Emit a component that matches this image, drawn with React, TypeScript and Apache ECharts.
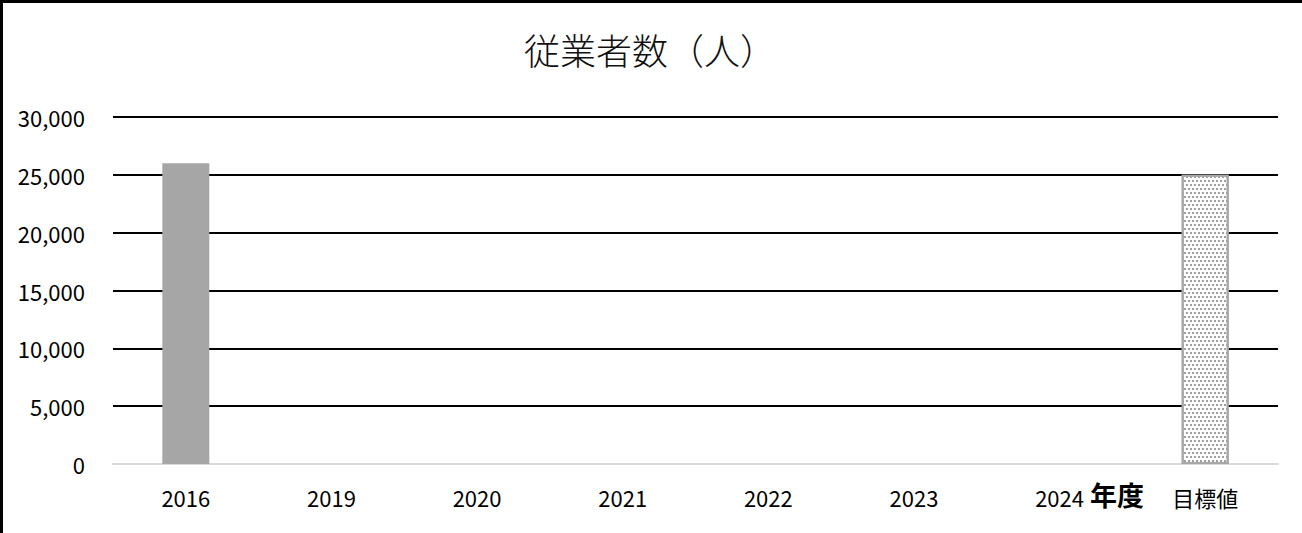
import React, { useEffect, useRef } from "react";
import * as echarts from "echarts";

const categories = ["2016", "2019", "2020", "2021", "2022", "2023", "2024", "目標値"];
const employees = [26000, null, null, null, null, null, null, null];
const target = [null, null, null, null, null, null, null, 25000];
const yTicks = { min: 0, max: 30000, interval: 5000 };
const titleText = "従業者数（人）";
const unitText = "年度";

const FONT = "'Noto Sans CJK JP', 'Noto Sans', sans-serif";

export default function App() {
  const ref = useRef<HTMLDivElement>(null);
  useEffect(() => {
    if (!ref.current) return;
    const chart = echarts.init(ref.current, null, { renderer: "svg" });
    chart.setOption({
      animation: false,
      backgroundColor: "#fff",
      textStyle: { fontFamily: FONT },
      title: {
        text: titleText,
        left: 524,
        top: 31,
        padding: 0,
        textStyle: { fontFamily: FONT, fontSize: 36, fontWeight: 300, color: "#111" },
      },
      graphic: [
        { type: "line", shape: { x1: 0, y1: 1.5, x2: 1302, y2: 1.5 }, style: { stroke: "#000", lineWidth: 3 } },
        { type: "line", shape: { x1: 1.5, y1: 0, x2: 1.5, y2: 533 }, style: { stroke: "#000", lineWidth: 3 } },
        {
          type: "text",
          left: 1090,
          top: 481,
          style: { text: unitText, font: `bold 27px ${FONT}`, fill: "#000" },
        },
      ],
      grid: { left: 113, right: 24, top: 117, bottom: 69, containLabel: false },
      xAxis: {
        type: "category",
        data: categories,
        axisLine: { lineStyle: { color: "#d9d9d9", width: 2 } },
        axisTick: { show: false },
        axisLabel: { fontSize: 22, color: "#000", margin: 22, fontFamily: FONT },
      },
      yAxis: {
        type: "value",
        min: yTicks.min,
        max: yTicks.max,
        interval: yTicks.interval,
        axisLine: { show: false },
        axisTick: { show: false },
        splitLine: { lineStyle: { color: "#000", width: 2 } },
        axisLabel: {
          fontSize: 22,
          color: "#000",
          margin: 28,
          fontFamily: FONT,
          formatter: (v: number) => v.toLocaleString("en-US"),
        },
      },
      series: [
        {
          type: "bar",
          stack: "s",
          data: employees,
          barWidth: 47,
          itemStyle: { color: "#a6a6a6" },
        },
        {
          type: "bar",
          stack: "s",
          data: target,
          barWidth: 47,
          itemStyle: {
            color: "#ffffff",
            borderColor: "#a6a6a6",
            borderWidth: 2,
            decal: {
              symbol: "rect",
              symbolSize: 1,
              color: "#a0a0a0",
              backgroundColor: "#ffffff",
              dashArrayX: [[2, 2], [0, 2, 2, 0]],
              dashArrayY: [2, 1.5],
              rotation: 0,
            },
          },
        },
      ],
    });
    return () => chart.dispose();
  }, []);
  return (
    <div
      ref={ref}
      style={{ position: "absolute", left: 0, top: 0, width: 1302, height: 533 }}
    />
  );
}
